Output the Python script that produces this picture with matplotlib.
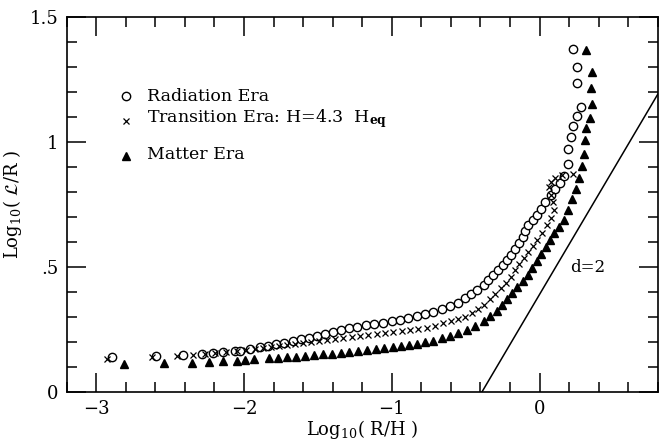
import numpy as np
import matplotlib
matplotlib.use("Agg")
import matplotlib.pyplot as plt

# Radiation era (open circles)
rad_x = [-2.893, -2.595, -2.412, -2.283, -2.209, -2.141, -2.060, -2.026, -1.958, -1.890,
         -1.836, -1.782, -1.728, -1.667, -1.612, -1.558, -1.504, -1.450, -1.396, -1.341,
         -1.287, -1.233, -1.172, -1.118, -1.057, -0.996, -0.942, -0.888, -0.827, -0.772,
         -0.718, -0.657, -0.603, -0.549, -0.501, -0.461, -0.420, -0.379, -0.346, -0.312,
         -0.278, -0.244, -0.217, -0.190, -0.163, -0.142, -0.115, -0.095, -0.075, -0.047,
         -0.020, 0.007, 0.034, 0.075, 0.108, 0.142, 0.163, 0.190, 0.196, 0.210,
         0.224, 0.251, 0.278, 0.251, 0.251, 0.230]
rad_y = [0.141, 0.144, 0.148, 0.152, 0.157, 0.160, 0.165, 0.165, 0.172, 0.180,
         0.185, 0.191, 0.196, 0.203, 0.211, 0.217, 0.224, 0.232, 0.241, 0.248,
         0.255, 0.261, 0.267, 0.272, 0.278, 0.284, 0.290, 0.298, 0.306, 0.312,
         0.320, 0.330, 0.344, 0.356, 0.374, 0.392, 0.408, 0.426, 0.446, 0.466,
         0.486, 0.506, 0.528, 0.548, 0.572, 0.596, 0.620, 0.644, 0.666, 0.688,
         0.708, 0.732, 0.760, 0.788, 0.812, 0.836, 0.864, 0.912, 0.972, 1.020,
         1.064, 1.104, 1.140, 1.236, 1.300, 1.372]

# Transition era (crosses)
tr_x = [-2.927, -2.622, -2.453, -2.344, -2.263, -2.195, -2.120, -2.046, -1.985, -1.924,
        -1.870, -1.816, -1.762, -1.707, -1.653, -1.599, -1.545, -1.491, -1.436, -1.382,
        -1.328, -1.267, -1.213, -1.159, -1.098, -1.043, -0.989, -0.928, -0.874, -0.820,
        -0.759, -0.705, -0.650, -0.596, -0.549, -0.501, -0.454, -0.413, -0.373, -0.332,
        -0.298, -0.264, -0.230, -0.196, -0.169, -0.136, -0.102, -0.075, -0.041, -0.014,
        0.020, 0.054, 0.081, 0.095, 0.088, 0.075, 0.061, 0.075, 0.108, 0.149, 0.224]
tr_y = [0.134, 0.142, 0.144, 0.150, 0.152, 0.156, 0.160, 0.164, 0.168, 0.172,
        0.176, 0.180, 0.184, 0.188, 0.192, 0.196, 0.200, 0.204, 0.208, 0.212,
        0.216, 0.220, 0.224, 0.228, 0.232, 0.236, 0.240, 0.244, 0.248, 0.252,
        0.256, 0.264, 0.276, 0.284, 0.292, 0.302, 0.316, 0.332, 0.348, 0.372,
        0.392, 0.414, 0.436, 0.460, 0.488, 0.512, 0.536, 0.560, 0.584, 0.608,
        0.636, 0.668, 0.696, 0.728, 0.760, 0.788, 0.820, 0.840, 0.856, 0.868, 0.872]

# Matter era (filled triangles)
mat_x = [-2.812, -2.541, -2.351, -2.236, -2.141, -2.046, -1.992, -1.931, -1.829, -1.768,
         -1.707, -1.646, -1.585, -1.524, -1.463, -1.402, -1.341, -1.287, -1.226, -1.165,
         -1.104, -1.050, -0.989, -0.935, -0.881, -0.827, -0.772, -0.718, -0.657, -0.603,
         -0.549, -0.488, -0.434, -0.379, -0.332, -0.291, -0.251, -0.217, -0.183, -0.149,
         -0.115, -0.081, -0.054, -0.020, 0.007, 0.041, 0.068, 0.095, 0.129, 0.163,
         0.190, 0.217, 0.244, 0.264, 0.285, 0.298, 0.305, 0.318, 0.339, 0.352,
         0.346, 0.352, 0.318]
mat_y = [0.112, 0.115, 0.117, 0.120, 0.124, 0.126, 0.128, 0.131, 0.135, 0.137,
         0.139, 0.142, 0.145, 0.148, 0.151, 0.154, 0.157, 0.161, 0.164, 0.168,
         0.172, 0.176, 0.180, 0.184, 0.188, 0.194, 0.199, 0.205, 0.215, 0.226,
         0.236, 0.250, 0.264, 0.284, 0.304, 0.324, 0.348, 0.372, 0.396, 0.420,
         0.444, 0.468, 0.496, 0.524, 0.552, 0.580, 0.608, 0.636, 0.660, 0.688,
         0.728, 0.772, 0.812, 0.856, 0.904, 0.952, 1.008, 1.056, 1.096, 1.152,
         1.216, 1.280, 1.368]

# d=2 reference line
d2_x = [-0.39, 0.8]
d2_y = [0.0, 1.19]

xticks = [-3, -2, -1, 0]
yticks = [0, 0.5, 1, 1.5]
ytick_labels = ["0", ".5", "1", "1.5"]

plt.rcParams["font.family"] = "DejaVu Serif"
plt.rcParams["mathtext.fontset"] = "dejavuserif"

fig = plt.figure(figsize=(6.61, 4.42), dpi=100)
ax = fig.add_axes([0.101, 0.113, 0.894, 0.849])

ax.plot(rad_x, rad_y, "o", ms=6, mfc="white", mec="black", mew=1.0, ls="none")
ax.plot(tr_x, tr_y, "x", ms=5, color="black", mew=0.9, ls="none")
ax.plot(mat_x, mat_y, "^", ms=5.8, color="black", ls="none")
ax.plot(d2_x, d2_y, color="black", lw=1.1)

ax.set_xlim(-3.2, 0.8)
ax.set_ylim(0, 1.5)
ax.set_xticks(xticks)
ax.set_xticks(np.arange(-3.2, 0.81, 0.2), minor=True)
ax.set_yticks(yticks)
ax.set_yticklabels(ytick_labels)
ax.set_yticks(np.arange(0, 1.51, 0.1), minor=True)
ax.tick_params(which="both", direction="in", top=True, right=True, labelsize=13, width=1.1)
ax.tick_params(which="major", length=14, pad=6)
ax.tick_params(which="minor", length=7)
for s in ax.spines.values():
    s.set_linewidth(1.2)

ax.set_xlabel(r"Log$_{10}$( R/H )", fontsize=13, labelpad=0)
ax.set_ylabel(r"Log$_{10}$( $\mathcal{L}$/R )", fontsize=13, labelpad=4)

# legend drawn by hand
ax.plot([-2.80], [1.185], "o", ms=6, mfc="white", mec="black", mew=1.0)
ax.plot([-2.80], [1.085], "x", ms=5, color="black", mew=0.9)
ax.plot([-2.80], [0.945], "^", ms=5.8, color="black")
ax.text(-2.66, 1.18, "Radiation Era", fontsize=12.5, va="center")
ax.text(-2.66, 1.095, r"Transition Era: H=4.3  H$_{\mathbf{eq}}$", fontsize=12.5, va="center")
ax.text(-2.66, 0.95, "Matter Era", fontsize=12.5, va="center")
ax.text(0.21, 0.496, "d=2", fontsize=12, va="center")

fig.savefig("out.png", dpi=100)
